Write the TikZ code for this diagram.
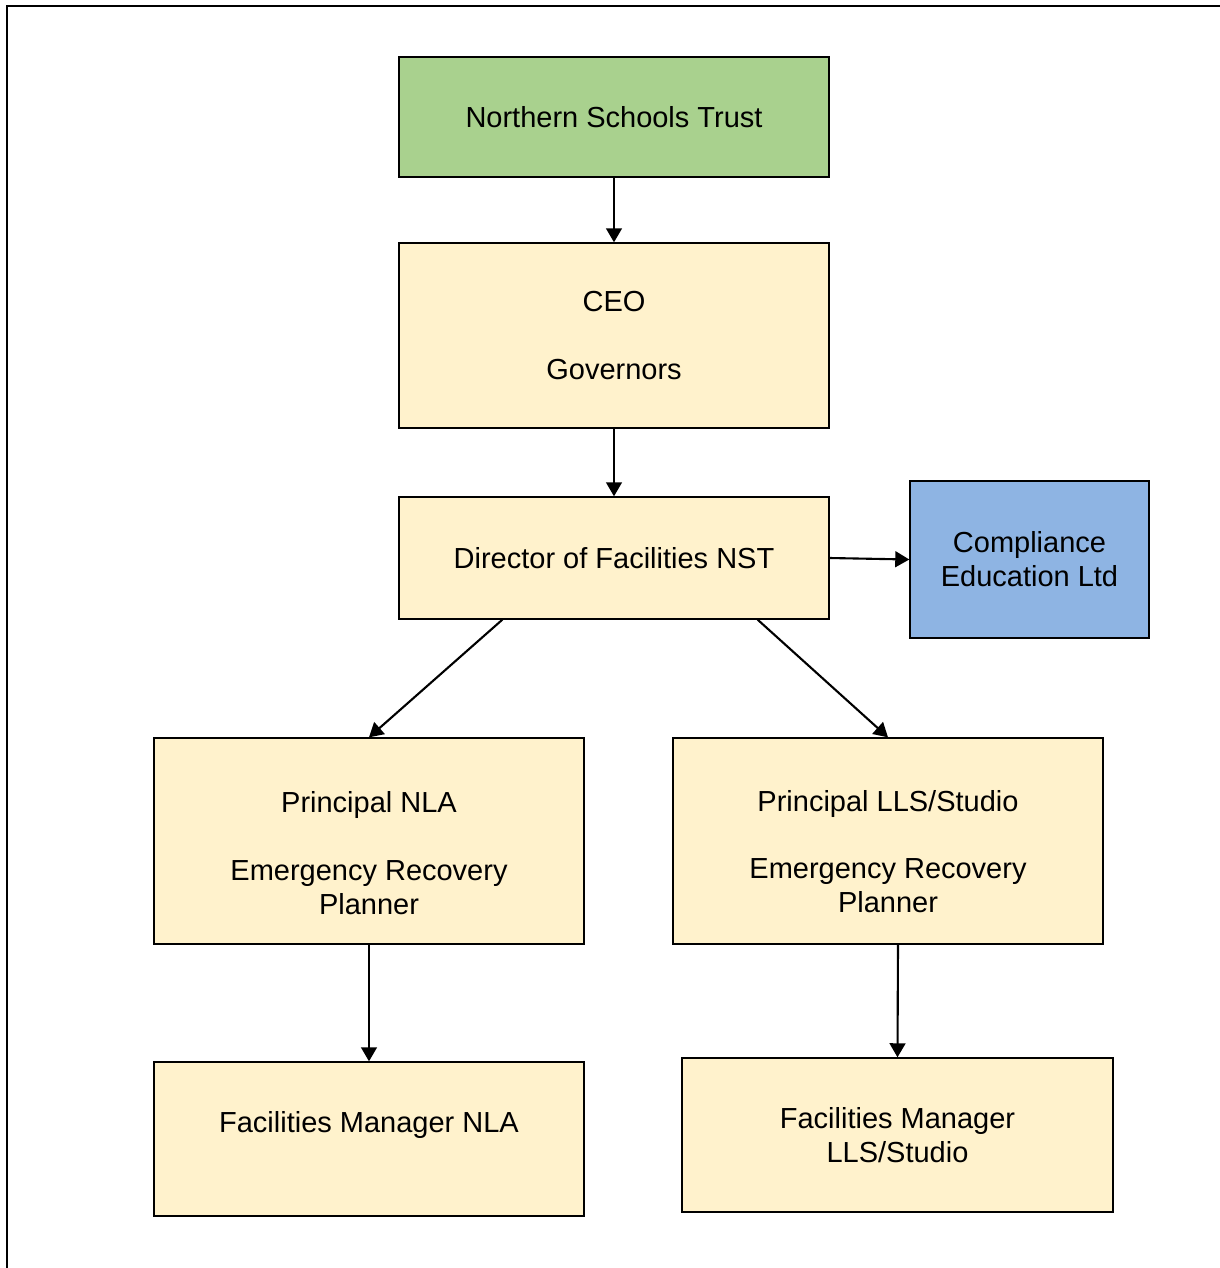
\documentclass[tikz,border=0pt]{standalone}
\usepackage{fontspec}
\setmainfont{Liberation Sans}
\usetikzlibrary{arrows.meta}
\definecolor{trustgreen}{HTML}{A9D18E}
\definecolor{roleyellow}{HTML}{FFF2CC}
\definecolor{partnerblue}{HTML}{8EB4E3}
\tikzset{
  box/.style={draw,line width=0.8pt,inner sep=0pt,align=center,
    font=\fontsize{16.5}{19.3}\selectfont,fill=roleyellow},
  link/.style={line width=1.2pt,-{Triangle[length=8pt,width=9pt]}},
}

\begin{document}
\begin{tikzpicture}[x=0.02cm,y=-0.02cm]
      \useasboundingbox (0,0) rectangle (1220,1268);
      \draw[line width=1.3pt] (1220,6)--(7,6)--(7,1268);
      \node[box,fill=trustgreen,minimum width=8.6cm,minimum height=2.4cm] (nst) at (614,117) {Northern Schools Trust};
      \node[box,minimum width=8.6cm,minimum height=3.7cm] (ceo) at (614,335.5) {CEO\\[19.3pt]Governors};
      \node[box,minimum width=8.6cm,minimum height=2.44cm] (dir) at (614,558) {Director of Facilities NST};
      \node[box,fill=partnerblue,minimum width=4.78cm,minimum height=3.14cm] (comp) at (1029.5,559.5) {Compliance\\Education Ltd};
      \node[box,minimum width=8.6cm,minimum height=4.12cm] (pnla) at (369,841) {\rule{0pt}{26pt}Principal NLA\\[19.3pt]Emergency Recovery\\Planner};
      \node[box,minimum width=8.6cm,minimum height=4.12cm] (plls) at (888,841) {\rule{0pt}{24pt}Principal LLS/Studio\\[19.3pt]Emergency Recovery\\Planner};
      \node[box,minimum width=8.6cm,minimum height=3.08cm] (fmnla) at (369,1139) {Facilities Manager NLA\\\mbox{}};
      \node[box,minimum width=8.62cm,minimum height=3.08cm] (fmlls) at (897.5,1135) {Facilities Manager\\LLS/Studio};
      \draw[link] (nst) -- (ceo);
      \draw[link] (ceo) -- (dir);
      \draw[link] (dir.east) -- (comp.west);
      \draw[link] ([xshift=2.08cm]dir.south west) -- (pnla.north);
      \draw[link] ([xshift=-1.44cm]dir.south east) -- (plls.north);
      \draw[link] (pnla.south) -- (fmnla.north);
      \draw[link] ([xshift=0.2cm]plls.south) -- (fmlls.north);
    \end{tikzpicture}
\end{document}
